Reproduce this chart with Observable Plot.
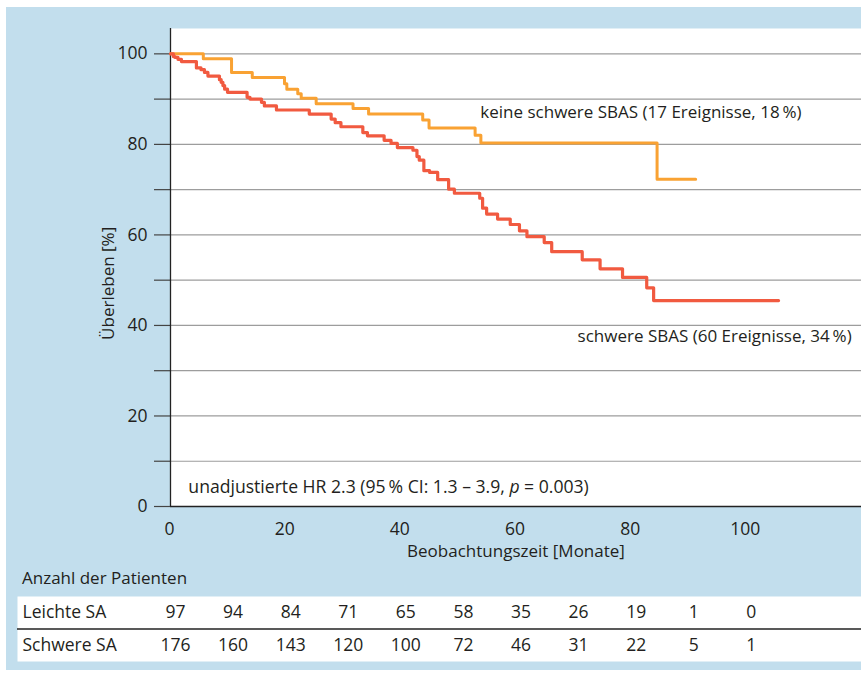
<!DOCTYPE html>
<html><head><meta charset="utf-8">
<script src="https://cdn.jsdelivr.net/npm/d3@7"></script>
<script src="https://cdn.jsdelivr.net/npm/@observablehq/plot@0.6"></script>
<style>
html,body{margin:0;padding:0;background:#fff;}
#wrap{position:relative;width:861px;height:674px;overflow:hidden;font-family:"Open Sans",sans-serif;color:#231f20;}
#panel{position:absolute;left:6px;top:7px;width:855px;height:663px;background:#c2deed;}
#chart{position:absolute;left:0;top:0;}
#table{position:absolute;left:0;top:570px;}
#tabletitle{position:absolute;left:22px;top:566px;font-size:17px;line-height:23px;}
</style></head>
<body>
<div id="wrap"><div id="panel"></div><div id="chart"></div><div id="tabletitle">Anzahl der Patienten</div><div id="table"></div></div>
<script>
// Kaplan-Meier steps (months, survival %)
const keineMonths = [0, 5.7, 10.6, 14.2, 19.8, 20.2, 22.1, 22.7, 25.3, 31.7, 34.4, 43.8, 44.9, 52.9, 53.9, 84.5, 91.2];
const keineSurv   = [100, 98.9, 95.9, 94.8, 93.4, 92.2, 91.2, 90.2, 89.0, 87.9, 86.7, 85.4, 83.6, 82.0, 80.3, 72.3, 72.3];
const schwereMonths = [0,0.5,0.8,1.3,1.9,4.5,5.3,5.9,6.5,8.5,8.8,9.1,9.4,9.9,13.3,13.8,15.8,16.3,18.4,24.1,27.9,28.6,29.6,33.4,34.2,37.1,38.3,39.4,42.1,42.8,43.2,44.0,45.0,46.4,48.3,49.3,53.7,54.2,54.9,56.8,59.0,60.6,61.9,64.9,66.2,71.5,74.6,78.5,82.7,83.9,105.6];
const schwereSurv   = [100,99.4,99.2,98.8,98.3,96.9,96.5,95.9,95.1,94.3,93.7,93.0,92.2,91.5,90.4,90.0,89.3,88.5,87.6,86.7,85.6,84.8,83.9,82.6,81.9,80.9,80.2,79.3,78.7,77.3,76.5,74.2,73.8,72.2,70.1,69.2,68.1,65.9,64.6,63.5,62.3,60.9,59.6,58.3,56.3,54.5,52.5,50.6,48.3,45.5,45.5];

const xTicks = [0, 20, 40, 60, 80, 100];
const yGrid = [10, 20, 30, 40, 50, 60, 70, 80, 90, 100];
const yTicks = [0, 10, 20, 30, 40, 50, 60, 70, 80, 90, 100];

const labelKeine = "keine schwere SBAS (17 Ereignisse, 18\u2009%)";
const labelSchwere = "schwere SBAS (60 Ereignisse, 34\u2009%)";
const hrText = "unadjustierte HR 2.3 (95\u2009% CI: 1.3 \u2013 3.9, p = 0.003)";

// number at risk
const riskMonths = [0, 10, 20, 30, 40, 50, 60, 70, 80, 90, 100];
const rowLabels = ["Leichte SA", "Schwere SA"];
const leichteN = [97, 94, 84, 71, 65, 58, 35, 26, 19, 1, 0];
const schwereN = [176, 160, 143, 120, 100, 72, 46, 31, 22, 5, 1];

const keine = keineMonths.map((m, i) => ({m, s: keineSurv[i]}));
const schwere = schwereMonths.map((m, i) => ({m, s: schwereSurv[i]}));

const ORANGE = "#f9a233", RED = "#f15a40", INK = "#231f20";
const FONT = "Open Sans, sans-serif";

const main = Plot.plot({
  width: 861, height: 570,
  marginLeft: 170, marginRight: 0, marginTop: 28, marginBottom: 64,
  style: {background: "transparent", fontFamily: FONT, fontSize: "17px", color: INK, overflow: "visible"},
  x: {domain: [0, 120]},
  y: {domain: [0, 105.6]},
  marks: [
    Plot.frame({fill: "white", stroke: null}),
    Plot.gridY(yGrid, {stroke: "#9d9d9d", strokeOpacity: 1, strokeWidth: 1.2}),
    Plot.axisY(yTicks, {tickSize: 16, tickPadding: 7, stroke: "#444", strokeWidth: 1.2, tickFormat: d => d % 20 === 0 ? d : "", label: null, fill: INK, fontSize: 17.5}),
    Plot.axisX(xTicks, {tickSize: 0, tickPadding: 16, label: null, fill: INK, fontSize: 17.5, dx: -1}),
    Plot.ruleX([0], {stroke: "#222", strokeWidth: 1.3}),
    Plot.ruleY([0], {stroke: "#222", strokeWidth: 1.3}),
    Plot.line(keine, {x: "m", y: "s", curve: "step-after", stroke: ORANGE, strokeWidth: 3}),
    Plot.line(schwere, {x: "m", y: "s", curve: "step-after", stroke: RED, strokeWidth: 3.2}),
    Plot.text([labelKeine], {x: 53.8, y: 87.0, textAnchor: "start", fill: INK, fontSize: 17}),
    Plot.text([labelSchwere], {x: 70.7, y: 37.6, textAnchor: "start", fill: INK, fontSize: 17}),
    Plot.text([hrText], {x: 3.1, y: 4.2, textAnchor: "start", fill: INK, fontSize: 17.6}),
    Plot.text(["Überleben [%]"], {frameAnchor: "left", y: 49.3, dx: -62, rotate: -90, textAnchor: "middle", fill: INK, fontSize: 17}),
    Plot.text(["Beobachtungszeit [Monate]"], {frameAnchor: "bottom", dy: 50, fill: INK, fontSize: 17})
  ]
});
document.getElementById("chart").appendChild(main);

// italic p in HR text
for (const t of main.querySelectorAll("text")) {
  if (t.textContent.startsWith("unadjustierte")) {
    const parts = t.textContent.split(", p = ");
    t.textContent = "";
    const ns = "http://www.w3.org/2000/svg";
    const a = document.createElementNS(ns, "tspan"); a.textContent = parts[0] + ", ";
    const b = document.createElementNS(ns, "tspan"); b.textContent = "p"; b.setAttribute("font-style", "italic");
    const c = document.createElementNS(ns, "tspan"); c.textContent = " = " + parts[1];
    t.append(a, b, c);
  }
}

const cells = [];
riskMonths.forEach((m, i) => {
  cells.push({m, row: 0.5, n: leichteN[i]});
  cells.push({m, row: 1.5, n: schwereN[i]});
});

const table = Plot.plot({
  width: 861, height: 104,
  marginLeft: 17, marginRight: 0, marginTop: 26, marginBottom: 13,
  style: {background: "transparent", fontFamily: FONT, fontSize: "17px", color: INK},
  x: {domain: [0, 120], range: [170, 861], axis: null},
  y: {domain: [0, 2], range: [26, 91], axis: null},
  marks: [
    Plot.frame({fill: "white", stroke: null}),
    Plot.ruleY([1], {stroke: "#222", strokeWidth: 1.3}),
    Plot.text(rowLabels, {y: (d, i) => i + 0.5, frameAnchor: "left", dx: 5, textAnchor: "start", fill: INK, fontSize: 17.5}),
    Plot.text(cells, {x: "m", y: "row", text: "n", dx: 5, fill: INK, fontSize: 17.5})
  ]
});
document.getElementById("table").appendChild(table);
</script>
</body></html>
